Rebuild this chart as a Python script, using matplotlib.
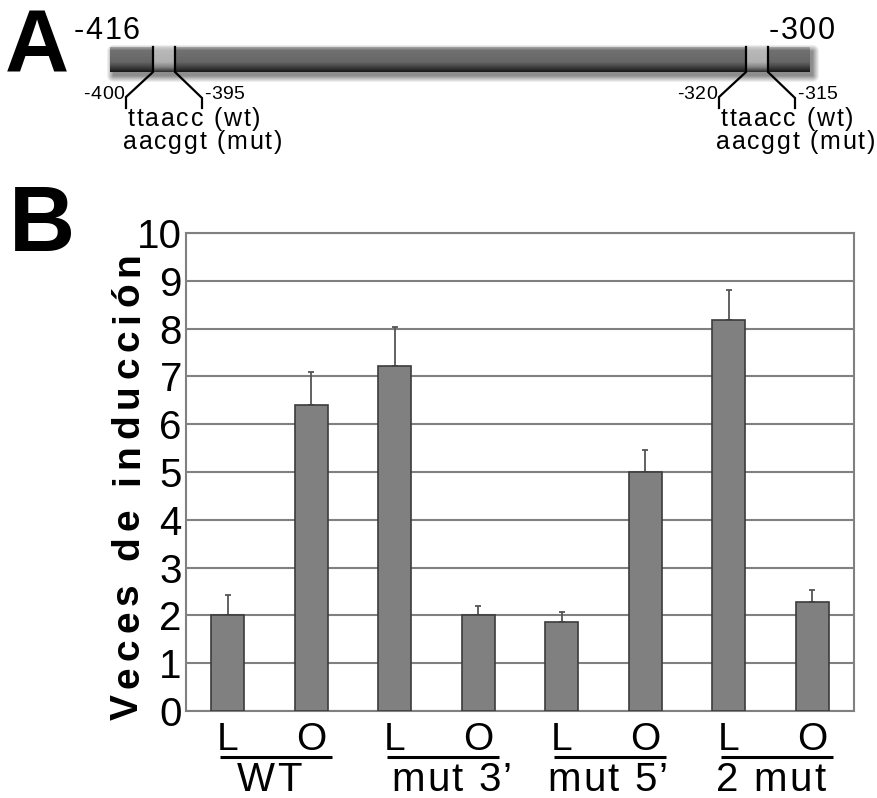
import matplotlib
matplotlib.use('Agg')
import matplotlib.pyplot as plt
import matplotlib.transforms as mtransforms
from matplotlib.font_manager import FontProperties
import numpy as np

plt.rcParams['font.family'] = ['Liberation Sans', 'DejaVu Sans']

# Data (panel B)
groups = ["WT", "mut 3\u2019", "mut 5\u2019", "2 mut"]
conditions = ["L", "O"]
values = [2.0, 6.4, 7.22, 2.0, 1.87, 5.0, 8.17, 2.27]
err_up = [0.42, 0.70, 0.81, 0.19, 0.21, 0.45, 0.63, 0.27]
yticks = list(range(0, 11))

# Schematic labels (panel A)
ends = ["-416", "-300"]
sites = [("-400", "-395"), ("-320", "-315")]
seq_wt = "ttaacc (wt)"
seq_mut = "aacggt (mut)"

W, H = 877, 798
fig = plt.figure(figsize=(W / 100, H / 100), dpi=100)

# overlay in pixel coordinates (y down) for the schematic and tracked labels
ov = fig.add_axes([0, 0, 1, 1])
ov.set_axis_off()

renderer = fig.canvas.get_renderer()


def advance(c, fp):
    w1 = renderer.get_text_width_height_descent("H" + c + "H", fp, ismath=False)[0]
    w0 = renderer.get_text_width_height_descent("HH", fp, ismath=False)[0]
    return w1 - w0


def tracked(x, y, s, size, track=0.0, weight='normal', ha='left', rotation=0,
            length=None):
    fp = FontProperties(family='Liberation Sans', weight=weight, size=size)
    adv = [advance(c, fp) for c in s]
    if length is not None:
        track = (length - sum(adv)) / (len(s) - 1)
    total = sum(adv) + track * (len(s) - 1)
    start = 0.0
    if ha == 'center':
        start = -total / 2
    elif ha == 'right':
        start = -total
    pos = start
    for c, a in zip(s, adv):
        if rotation == 0:
            ov.text(x + pos, y, c, fontproperties=fp, ha='left', va='baseline')
        else:
            ov.text(x, y - pos, c, fontproperties=fp, ha='left', va='baseline',
                    rotation=90, rotation_mode='anchor')
        pos += a + track


# ---- Panel A: promoter bar ----
bx0, bx1, by0, by1 = 110, 810, 47, 72
boxes = [(153, 175), (746, 768)]

# soft drop shadow
gx = np.arange(bx0 - 4, bx1 + 12)
gy = np.arange(by0 - 4, by1 + 12)
GX, GY = np.meshgrid(gx, gy)
dx = np.maximum(np.maximum((bx0 + 3) - GX, GX - (bx1 + 3)), 0)
dy = np.maximum(np.maximum((by0 + 4) - GY, GY - (by1 + 4)), 0)
dist = np.hypot(dx, dy)
alpha = np.clip(1 - dist / 7.0, 0, 1) * 0.45
shadow = np.zeros(GX.shape + (4,))
shadow[..., 3] = alpha
ov.imshow(shadow, extent=(gx[0], gx[-1], gy[-1], gy[0]), aspect='auto',
          interpolation='bilinear', zorder=1)

# bar body with vertical shading
ny = by1 - by0
f = np.linspace(0, 1, ny)
cols = np.arange(bx0, bx1)
lum_dark = np.interp(f, [0, 0.12, 0.6, 0.82, 1.0], [0.62, 0.44, 0.40, 0.25, 0.10])
lum_light = np.interp(f, [0, 0.12, 0.6, 0.82, 1.0], [0.80, 0.72, 0.69, 0.50, 0.20])
img = np.tile(lum_dark[:, None], (1, len(cols)))
for a, b in boxes:
    m = (cols >= a) & (cols < b)
    img[:, m] = lum_light[:, None]
ov.imshow(img, extent=(bx0, bx1, by1, by0), aspect='auto', cmap='gray',
          vmin=0, vmax=1, interpolation='bilinear', zorder=2)

# brackets
for (a, b), (lab_l, lab_r) in zip(boxes, sites):
    ov.plot([a, a, a - 27, a - 27], [by0, by1, 97, 108], color='black', lw=1.6,
            solid_joinstyle='miter', zorder=3)
    ov.plot([b, b, b + 27, b + 27], [by0, by1, 98, 108], color='black', lw=1.6,
            solid_joinstyle='miter', zorder=3)
    tracked(a - 29, 99, lab_l, 14, track=0.4, ha='right')
    tracked(b + 29, 99, lab_r, 14, track=0.4, ha='left')
    tracked(a - 25, 126, seq_wt, 18, track=1.7, ha='left')
    tracked(a - 30, 149, seq_mut, 18, track=1.7, ha='left')

tracked(74, 39, ends[0], 22, track=1.5)
tracked(769, 39, ends[1], 22, track=1.5)

ov.text(5, 72, "A", fontsize=64, fontweight='bold', ha='left', va='baseline')
ov.text(9, 251, "B", fontsize=66, fontweight='bold', ha='left', va='baseline')

# ---- Panel B: bar chart ----
ax_l, ax_r, ax_t, ax_b = 186, 854, 233, 711
ax = fig.add_axes([ax_l / W, (H - ax_b) / H, (ax_r - ax_l) / W, (ax_b - ax_t) / H])
x = np.arange(len(values))
ax.bar(x, values, width=0.39, color='#808080', edgecolor='#3c3c3c', lw=1.2, zorder=3)
ax.errorbar(x, values, yerr=[np.zeros(len(values)), err_up], fmt='none',
            ecolor='#555555', elinewidth=1.3, capsize=2.5, capthick=1.3, zorder=2)
ax.set_xlim(-0.5, len(values) - 0.5)
ax.set_ylim(0, 10)
ax.set_yticks(yticks)
ax.set_yticklabels([str(v) for v in yticks], fontsize=29)
ax.yaxis.grid(True, color='#808080', lw=1.5, zorder=0)
ax.set_axisbelow(True)
ax.set_xticks(x)
ax.set_xticklabels(conditions * len(groups), fontsize=28)
ax.tick_params(axis='both', length=0)
ax.tick_params(axis='y', pad=3)
ax.tick_params(axis='x', pad=8)
for s in ax.spines.values():
    s.set_color('#808080')
    s.set_linewidth(1.5)

# group underlines and labels
trans = mtransforms.blended_transform_factory(ax.transData, ax.transAxes)
nudge = [0.0, 0.18, 0.05, 0.0]
for i, g in enumerate(groups):
    xl, xo = x[2 * i], x[2 * i + 1]
    ax.plot([xl - 0.09, xo + 0.25], [-0.097, -0.097], color='black', lw=2.2,
            transform=trans, clip_on=False, solid_capstyle='butt')
    cx = ax.transData.transform(((xl + xo) / 2 + nudge[i], 0))[0]
    tracked(cx, 791, g, 29, track=2.2, ha='center')

# y label with letter spacing
tracked(138, 720, "Veces de inducci\u00f3n", 28, weight='bold', rotation=90,
        length=468)

ov.set_xlim(0, W)
ov.set_ylim(H, 0)

fig.savefig('out.png', dpi=100)
